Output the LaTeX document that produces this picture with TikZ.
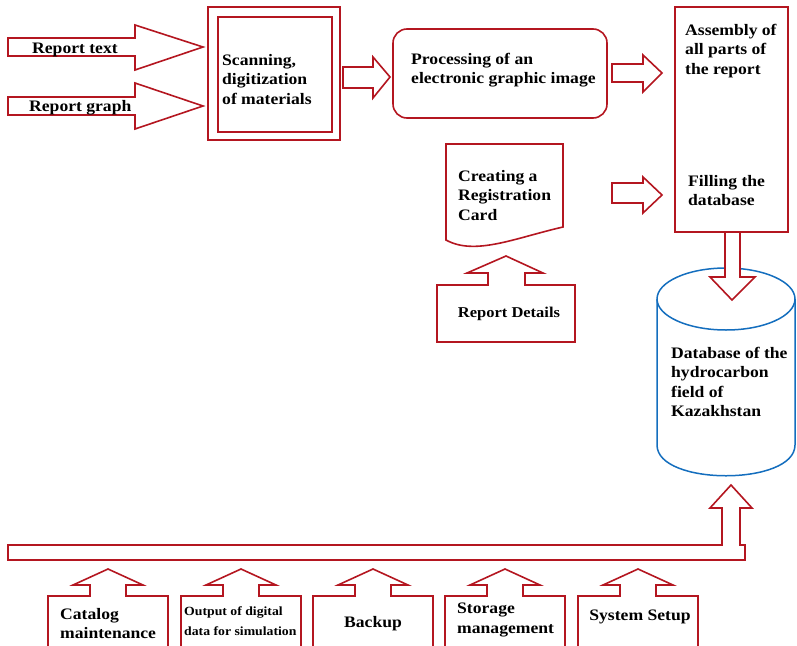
\documentclass[tikz,border=0pt]{standalone}
\usepackage{fontspec}
\setmainfont{Liberation Serif}[FakeStretch=1.1]
\definecolor{rd}{RGB}{180,22,32}
\definecolor{bl}{RGB}{20,110,190}
\begin{document}
\begin{tikzpicture}[x=1pt,y=-1pt,
  shp/.style={draw=rd, line width=1.6pt, fill=white, line join=miter},
  cyl/.style={draw=bl, line width=1.5pt},
  txt/.style={font=\bfseries\fontsize{16}{19.5}\selectfont, align=left, inner sep=0pt, anchor=north west},
  one/.style={font=\bfseries\fontsize{16}{19.5}\selectfont, inner sep=0pt, anchor=base west},
  small/.style={font=\bfseries\fontsize{12.5}{20}\selectfont, align=left, inner sep=0pt, anchor=north west}]
\useasboundingbox (0,0) rectangle (797,645);

% input arrows
\draw[shp] (8,38) -- (135,38) -- (135,25) -- (203,47) -- (135,70) -- (135,56) -- (8,56) -- cycle;
\draw[shp] (8,97) -- (135,97) -- (135,83) -- (203,106) -- (135,129) -- (135,115) -- (8,115) -- cycle;
\node[one] (rtext) at (32,53) {Report text};
\node[one] (rgraph) at (29,111) {Report graph};

% scanning box
\draw[shp] (208,7) rectangle (340,140);
\draw[shp] (218,17) rectangle (332,132);
\node[txt] (scan) at (222,54) {Scanning,\\digitization\\of materials};

% arrow scan -> processing
\draw[shp] (343,67) -- (373,67) -- (373,57) -- (390,77) -- (373,98) -- (373,88) -- (343,88) -- cycle;

% processing
\draw[shp, rounded corners=14pt] (393,29) rectangle (607,118);
\node[txt] (proc) at (411,53) {Processing of an\\electronic graphic image};

% arrow processing -> assembly
\draw[shp] (612,64) -- (643,64) -- (643,55) -- (662,73) -- (643,92) -- (643,82) -- (612,82) -- cycle;

% assembly column
\draw[shp] (675,7) rectangle (788,232);
\node[txt] (asm) at (685,24) {Assembly of\\all parts of\\the report};
\node[txt] (fill) at (688,175) {Filling the\\database};

% arrow to filling
\draw[shp] (612,183) -- (643,183) -- (643,177) -- (662,195) -- (643,213) -- (643,203) -- (612,203) -- cycle;

% registration card (document shape)
\draw[shp] (446,240) -- (446,144) -- (563,144) -- (563,227)
  .. controls (515,238) and (475,256) .. (446,240) -- cycle;
\node[txt] (card) at (458,170) {Creating a\\Registration\\Card};

% report details with up arrow
\draw[shp] (437,342) -- (437,285) -- (488,285) -- (488,273) -- (467,273) -- (506,256)
  -- (543,273) -- (525,273) -- (525,285) -- (575,285) -- (575,342) -- cycle;
\node[font=\bfseries\fontsize{15}{18}\selectfont, inner sep=0pt, anchor=base] (det) at (509,317) {Report Details};

% cylinder
\draw[cyl, fill=white] (657,299) -- (657,445) .. controls (657,486) and (795,486) .. (795,445) -- (795,299);
\draw[cyl] (726,299) ellipse [x radius=69, y radius=31];
\node[txt] (db) at (671,347) {Database of the\\hydrocarbon\\field of\\Kazakhstan};

% arrow assembly -> database
\draw[shp] (725,233) -- (725,277) -- (710,277) -- (732,300) -- (755,277) -- (740,277) -- (740,233);

% bus with up arrow
\draw[shp] (8,545) -- (722,545) -- (722,508) -- (710,508) -- (731,485) -- (752,508)
  -- (740,508) -- (740,545) -- (745,545) -- (745,560) -- (8,560) -- cycle;

% bottom boxes
\foreach \c in {108,241,373,505,638}{
  \draw[shp] (\c-60,646) -- (\c-60,596) -- (\c-18,596) -- (\c-18,585) -- (\c-35,585) -- (\c,569)
    -- (\c+35,585) -- (\c+18,585) -- (\c+18,596) -- (\c+60,596) -- (\c+60,646);
}
\node[txt] (cat) at (60,608) {Catalog\\maintenance};
\node[small] (out) at (184,606.5) {Output of digital\\data for simulation};
\node[one, anchor=base] (bak) at (373,627) {Backup};
\node[txt] (sto) at (457,603) {Storage\\management};
\node[one, anchor=base] (sys) at (640,620) {System Setup};
\end{tikzpicture}
\end{document}
